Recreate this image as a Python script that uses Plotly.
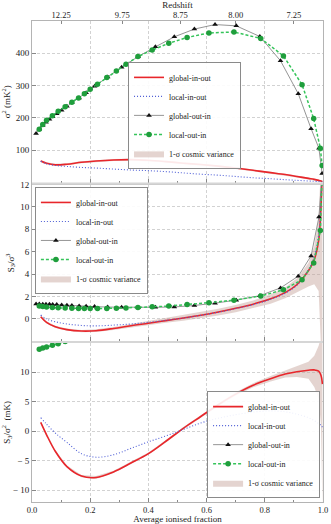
import plotly.graph_objects as go

C_RED = '#e8262b'
C_BLUE = '#4f5fd6'
C_BLACK = '#111111'
C_GREY = '#7a7a7a'
C_GREEN = '#1f9e3c'
C_GREEN_L = '#35c45a'
C_BAND = 'rgba(196,160,150,0.45)'
C_FRAME = '#b4b4b4'
C_GRID = '#d2d2d2'
C_TEXT = '#222222'
FONT = 'Liberation Serif, DejaVu Serif, serif'

# in-out runs: average ionised fraction grid
xi_io = [0.03, 0.05, 0.08, 0.12, 0.17, 0.22, 0.28, 0.34, 0.40, 0.46, 0.52, 0.58,
         0.64, 0.70, 0.76, 0.82, 0.87, 0.91, 0.95, 0.97, 0.985, 0.993, 0.998]

# sigma^2 (mK^2)
var_gio = [67, 60, 55, 57, 63, 67, 70, 71, 69, 65, 60, 56, 51, 45, 38, 31, 25, 19, 13, 10, 7, 5, 3]
var_lio = [66, 58, 53, 50, 47, 45, 42, 39, 37, 34, 30, 26, 23, 19, 15, 12, 9, 7, 5, 4, 3, 2, 1]
var_lo = [64, 57, 52, 54, 60, 64, 67, 68, 66, 62, 57, 53, 48, 42, 35, 28, 22, 16, 10, 7, 4, 2, 0]
var_hi = [70, 63, 58, 60, 66, 70, 73, 74, 72, 68, 63, 59, 54, 48, 41, 34, 28, 22, 16, 13, 10, 8, 6]

# S3 / sigma^3
skw_gio = [0.2, -0.3, -0.7, -0.95, -1.08, -1.05, -0.85, -0.6, -0.38, -0.15, 0.08, 0.33,
           0.62, 0.95, 1.32, 1.8, 2.35, 3.05, 4.3, 5.3, 7.0, 10.0, 14.0]
skw_lio = [0.35, 0.0, -0.25, -0.45, -0.58, -0.62, -0.55, -0.45, -0.3, -0.12, 0.08, 0.33,
           0.6, 0.92, 1.28, 1.75, 2.3, 3.0, 4.4, 5.6, 7.5, 10.5, 14.0]
skw_lo = [0.1, -0.4, -0.8, -1.05, -1.18, -1.17, -0.98, -0.75, -0.55, -0.35, -0.15, 0.05,
          0.3, 0.6, 0.95, 1.35, 1.85, 2.4, 2.9, 3.1, 2.5, -2.5, -2.5]
skw_hi = [0.3, -0.2, -0.6, -0.85, -0.98, -0.93, -0.72, -0.45, -0.2, 0.05, 0.3, 0.6,
          0.9, 1.25, 1.65, 2.2, 2.8, 3.6, 5.0, 6.5, 9.0, 14.0, 14.0]

# S3 / sigma^2 (mK)
s3n_gio = [1.5, -0.6, -3.4, -6.0, -7.6, -7.85, -6.9, -5.4, -3.8, -1.7, 0.5, 2.5,
           4.5, 6.3, 7.8, 8.9, 9.7, 10.1, 10.35, 10.4, 10.2, 9.5, 8.0]
s3n_lio = [2.3, 1.2, -0.3, -1.9, -3.8, -4.4, -4.0, -2.9, -1.8, -0.8, 0.3, 1.4,
           2.2, 2.8, 3.25, 3.45, 3.3, 2.9, 2.3, 1.8, 1.3, 1.0, 0.7]
s3n_lo = [1.3, -0.8, -3.6, -6.2, -7.8, -8.1, -7.1, -5.6, -4.0, -1.9, 0.3, 2.3,
          4.25, 6.0, 7.45, 8.45, 9.1, 9.2, 8.9, 7.5, 5.5, 1.0, -13.0]
s3n_hi = [1.7, -0.4, -3.2, -5.8, -7.4, -7.6, -6.7, -5.2, -3.6, -1.5, 0.7, 2.7,
          4.75, 6.6, 8.15, 9.35, 10.3, 11.0, 11.8, 12.8, 14.5, 16.0, 16.0]

# out-in runs (snapshots)
xi_goi = [0.014, 0.025, 0.037, 0.048, 0.06, 0.071, 0.085, 0.102, 0.12, 0.137, 0.162,
          0.186, 0.215, 0.26, 0.308, 0.365, 0.424, 0.489, 0.558, 0.629, 0.702, 0.783,
          0.854, 0.915, 0.959, 0.986, 0.997]
var_goi = [152, 165, 177, 187, 196, 204, 213, 224, 236, 247, 262, 278, 298, 327, 357,
           390, 420, 451, 475, 489, 485, 452, 377, 275, 167, 106, 28]
skw_goi = [1.33, 1.33, 1.32, 1.32, 1.31, 1.3, 1.28, 1.25, 1.22, 1.19, 1.16, 1.13, 1.1,
           1.06, 1.04, 1.03, 1.04, 1.07, 1.2, 1.41, 1.68, 2.08, 2.77, 3.82, 5.63, 9.1, 13.0]

xi_loi = [0.025, 0.037, 0.05, 0.07, 0.09, 0.114, 0.137, 0.16, 0.18, 0.2, 0.225, 0.257,
          0.29, 0.323, 0.364, 0.413, 0.47, 0.533, 0.608, 0.694, 0.786, 0.864, 0.928,
          0.968, 0.991, 0.997]
var_loi = [165, 180, 193, 207, 221, 235, 249, 262, 275, 289, 304, 325, 345, 366, 390,
           410, 431, 449, 463, 466, 446, 392, 303, 198, 106, 53]
skw_loi = [1.15, 1.1, 1.06, 1.02, 0.99, 0.97, 0.95, 0.94, 0.93, 0.93, 0.93, 0.94, 0.96,
           0.98, 1.02, 1.08, 1.15, 1.28, 1.45, 1.68, 2.05, 2.6, 3.5, 5.0, 7.9, 13.0]
s3n_loi = [13.9, 14.1, 14.3, 14.6, 14.85, 15.2, 15.6]

# top axis: redshift at given ionised fractions
z_ticks = [0.1, 0.31, 0.51, 0.7, 0.9]
z_labels = ['12.25', '9.75', '8.75', '8.00', '7.25']

fig = go.Figure()


def add_panel(xa, ya, leg, red, blue, lo, hi, goi, loi):
    common = dict(xaxis=xa, yaxis=ya, legend=leg, hoverinfo='skip')
    fig.add_trace(go.Scatter(x=xi_io, y=lo, mode='lines', line=dict(width=0),
                             showlegend=False, **common))
    fig.add_trace(go.Scatter(x=xi_io, y=hi, mode='lines', line=dict(width=0),
                             fill='tonexty', fillcolor=C_BAND, legendrank=5,
                             name='1-σ cosmic variance', **common))
    fig.add_trace(go.Scatter(x=xi_io, y=red, mode='lines', name='global-in-out',
                             line=dict(color=C_RED, width=1.6, shape='spline'),
                             legendrank=1, **common))
    fig.add_trace(go.Scatter(x=xi_io, y=blue, mode='lines', name='local-in-out',
                             line=dict(color=C_BLUE, width=1.1, dash='1px,2px', shape='spline'),
                             legendrank=2, **common))
    gx = xi_goi if goi else [None]
    fig.add_trace(go.Scatter(x=gx, y=goi or [None], mode='lines+markers', name='global-out-in',
                             line=dict(color=C_GREY, width=0.8),
                             marker=dict(symbol='triangle-up', size=5, color=C_BLACK),
                             legendrank=3, **common))
    fig.add_trace(go.Scatter(x=xi_loi[:len(loi)], y=loi, mode='lines+markers',
                             name='local-out-in',
                             line=dict(color=C_GREEN_L, width=1.5, dash='3px,2px'),
                             marker=dict(symbol='circle', size=5.5, color=C_GREEN),
                             legendrank=4, **common))


add_panel('x3', 'y3', 'legend', var_gio, var_lio, var_lo, var_hi, var_goi, var_loi)
add_panel('x2', 'y2', 'legend2', skw_gio, skw_lio, skw_lo, skw_hi, skw_goi, skw_loi)
add_panel('x', 'y', 'legend3', s3n_gio, s3n_lio, s3n_lo, s3n_hi, None, s3n_loi)

# carrier for the redshift axis so that it gets drawn
fig.add_trace(go.Scatter(x=z_ticks, y=[None] * len(z_ticks), xaxis='x4', yaxis='y3',
                         mode='markers', showlegend=False, hoverinfo='skip'))

xbase = dict(range=[0, 1], tick0=0, dtick=0.2, showgrid=True, gridcolor=C_GRID,
             griddash='3px,2px', gridwidth=1, zeroline=False, showline=True,
             linecolor=C_FRAME, linewidth=1, mirror=True, ticks='inside', ticklen=4,
             tickcolor='#888', automargin=False,
             minor=dict(dtick=0.1, ticks='inside', ticklen=2, tickcolor='#888', showgrid=False))
ybase = dict(showgrid=True, gridcolor=C_GRID, griddash='3px,2px', gridwidth=1,
             zeroline=False, showline=True, linecolor=C_FRAME, linewidth=1, mirror=True,
             ticks='inside', ticklen=4, tickcolor='#888', automargin=False,
             tickfont=dict(size=9))

legbase = dict(font=dict(size=8, color=C_TEXT), bgcolor='rgba(255,255,255,0.9)',
               bordercolor='#8a8a8a', borderwidth=1, itemwidth=30,
               tracegroupgap=0, traceorder='normal')

# light grey bands where the stacked panels meet
seps = [dict(type='rect', xref='paper', yref='paper', x0=0, x1=1, y0=y0, y1=y1,
             fillcolor='#d6d6d6', line=dict(width=0), layer='above')
        for y0, y1 in [(0.3305, 0.3345), (0.6595, 0.6645)]]

fig.update_layout(
    width=331, height=524,
    paper_bgcolor='white', plot_bgcolor='white',
    font=dict(family=FONT, color=C_TEXT, size=9),
    margin=dict(l=32, r=8, t=21, b=22),
    showlegend=True,
    shapes=seps,
    xaxis=dict(**xbase, anchor='y', tickformat='.1f', tickfont=dict(size=8.5),
               title=dict(text='Average ionised fraction', font=dict(size=9), standoff=0)),
    xaxis2=dict(**xbase, anchor='y2', matches='x', showticklabels=False),
    xaxis3=dict(**xbase, anchor='y3', matches='x', showticklabels=False),
    xaxis4=dict(range=[0, 1], overlaying='x3', side='top', anchor='y3',
                tickvals=z_ticks, ticktext=z_labels, ticks='inside', ticklen=3,
                tickcolor='#888', showgrid=False, zeroline=False, automargin=False,
                tickfont=dict(size=8.5),
                title=dict(text='Redshift', font=dict(size=9), standoff=0)),
    yaxis=dict(**ybase, domain=[0, 0.331], range=[-12, 15],
               tickvals=[-10, -5, 0, 5, 10], ticktext=['− 10', '− 5', '0', '5', '10'],
               title=dict(text='S<sub>3</sub>/σ<sup>2</sup>  (mK)', font=dict(size=9), standoff=4)),
    yaxis2=dict(**ybase, domain=[0.334, 0.66], range=[-2, 12],
                tickvals=[0, 2, 4, 6, 8, 10, 12],
                title=dict(text='S<sub>3</sub>/σ<sup>3</sup>', font=dict(size=9), standoff=4)),
    yaxis3=dict(**ybase, domain=[0.664, 1], range=[0, 500],
                tickvals=[100, 200, 300, 400],
                title=dict(text='σ<sup>2</sup> (mK<sup>2</sup>)', font=dict(size=9), standoff=4)),
    legend=dict(**legbase, x=0.33, y=0.915, xanchor='left', yanchor='top'),
    legend2=dict(**legbase, x=0.01, y=0.655, xanchor='left', yanchor='top'),
    legend3=dict(**legbase, x=0.99, y=0.008, xanchor='right', yanchor='bottom'),
)

fig.write_html('out.html', config={'displayModeBar': False},
               post_script="document.body.style.margin='0';")
